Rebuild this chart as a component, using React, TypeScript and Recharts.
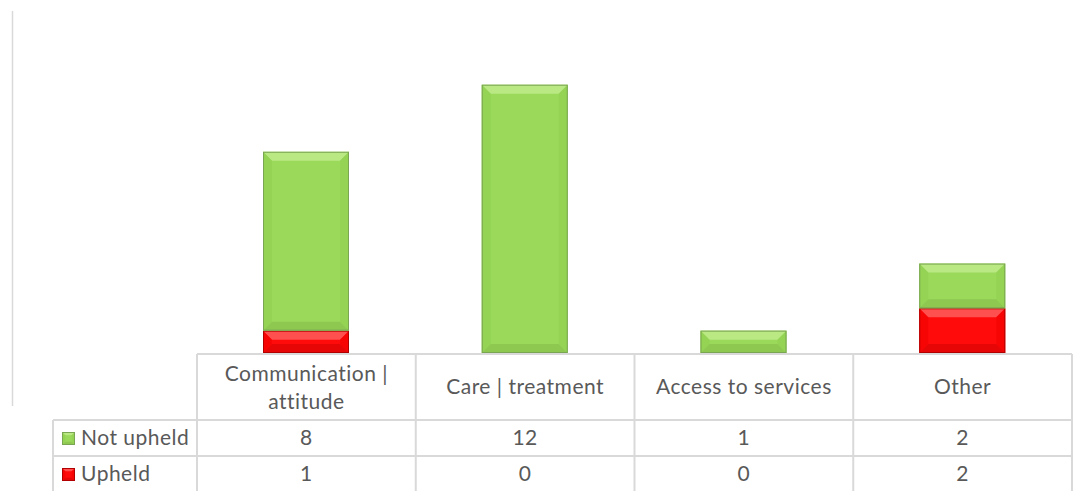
import { BarChart, Bar, XAxis, YAxis } from 'recharts';

const categories = ['Communication | attitude', 'Care | treatment', 'Access to services', 'Other'];
const headerLines = [['Communication |', 'attitude'], ['Care | treatment'], ['Access to services'], ['Other']];
const notUpheld = [8, 12, 1, 2];
const upheld = [1, 0, 0, 2];

const W = 1076;
const H = 491;
const PLOT_LEFT = 197;
const PLOT_RIGHT = 1072;
const PLOT_TOP = 40;
const PLOT_BOTTOM = 353;
const GRID = '#d9d9d9';
const TEXT = '#595959';
const FONT = 'Lato, "Open Sans", sans-serif';
const FONT_SIZE = 21;

const palette = {
  green: { base: '#9bd95b', light: '#c8f095', side: '#8fcf50', dark: '#7bb043', edge: '#7aa552' },
  red: { base: '#ff0b0b', light: '#ff6d6d', side: '#f20000', dark: '#c40000', edge: '#b00000' },
};

const data = categories.map((name, i) => ({ name, notUpheld: notUpheld[i], upheld: upheld[i] }));

// bevelled rectangle: flat face plus four sloped edges
function BevelBar(props: any) {
  const { x, y, width, height, tone } = props;
  if (!height || height <= 0) return null;
  const c = palette[tone as 'green' | 'red'];
  const b = Math.min(9, height / 2.4, width / 4);
  const x2 = x + width;
  const y2 = y + height;
  return (
    <g>
      <rect x={x} y={y} width={width} height={height} fill={c.base} />
      <polygon points={`${x},${y} ${x2},${y} ${x2 - b},${y + b} ${x + b},${y + b}`} fill={c.light} opacity={0.7} />
      <polygon points={`${x},${y2} ${x2},${y2} ${x2 - b},${y2 - b} ${x + b},${y2 - b}`} fill={c.dark} opacity={0.4} />
      <polygon points={`${x},${y} ${x + b},${y + b} ${x + b},${y2 - b} ${x},${y2}`} fill={c.side} opacity={0.6} />
      <polygon points={`${x2},${y} ${x2 - b},${y + b} ${x2 - b},${y2 - b} ${x2},${y2}`} fill={c.side} opacity={0.6} />
      <rect x={x + 0.5} y={y + 0.5} width={width - 1} height={height - 1} fill="none" stroke={c.edge} strokeWidth={1} />
    </g>
  );
}

function LegendKey({ x, y, tone }: { x: number; y: number; tone: 'green' | 'red' }) {
  return <BevelBar x={x} y={y} width={13} height={13} tone={tone} />;
}

function DataTable() {
  const colW = (PLOT_RIGHT - PLOT_LEFT) / categories.length;
  const rowTop = 420;
  const rowH = 36;
  const legendLeft = 53;
  const rows = [
    { label: 'Not upheld', values: notUpheld, tone: 'green' as const },
    { label: 'Upheld', values: upheld, tone: 'red' as const },
  ];
  const textProps = { fontFamily: FONT, fontSize: FONT_SIZE, fill: TEXT, letterSpacing: 0.5 };
  return (
    <svg width={W} height={H} style={{ position: 'absolute', left: 0, top: 0, pointerEvents: 'none' }}>
      <line x1={12.5} y1={11} x2={12.5} y2={406} stroke={GRID} strokeWidth={1.5} />
      <line x1={PLOT_LEFT} y1={354} x2={PLOT_RIGHT} y2={354} stroke={GRID} strokeWidth={2} />
      {[0, 1, 2].map((r) => (
        <line key={r} x1={legendLeft} y1={rowTop + r * rowH} x2={PLOT_RIGHT} y2={rowTop + r * rowH} stroke={GRID} strokeWidth={2} />
      ))}
      <line x1={legendLeft} y1={rowTop} x2={legendLeft} y2={H} stroke={GRID} strokeWidth={2} />
      {categories.map((_, i) => (
        <line key={i} x1={PLOT_LEFT + i * colW} y1={354} x2={PLOT_LEFT + i * colW} y2={H} stroke={GRID} strokeWidth={2} />
      ))}
      <line x1={PLOT_RIGHT} y1={354} x2={PLOT_RIGHT} y2={H} stroke={GRID} strokeWidth={2} />
      {headerLines.map((lines, i) => (
        <text key={i} x={PLOT_LEFT + (i + 0.5) * colW} textAnchor="middle" {...textProps}>
          {lines.map((t, j) => (
            <tspan key={j} x={PLOT_LEFT + (i + 0.5) * colW} y={(lines.length === 1 ? 394 : 381) + j * 28}>{t}</tspan>
          ))}
        </text>
      ))}
      {rows.map((row, r) => (
        <g key={row.label}>
          <LegendKey x={62} y={rowTop + r * rowH + 12} tone={row.tone} />
          <text x={81} y={rowTop + r * rowH + 25} {...textProps}>{row.label}</text>
          {row.values.map((v, i) => (
            <text key={i} x={PLOT_LEFT + (i + 0.5) * colW} y={rowTop + r * rowH + 25} textAnchor="middle" {...textProps}>
              {v}
            </text>
          ))}
        </g>
      ))}
    </svg>
  );
}

export default function App() {
  return (
    <div style={{ position: 'absolute', left: 0, top: 0, width: W, height: H, background: '#fff', overflow: 'hidden' }}>
      <BarChart
        width={W}
        height={H}
        data={data}
        margin={{ top: PLOT_TOP, right: W - PLOT_RIGHT, bottom: H - PLOT_BOTTOM, left: PLOT_LEFT }}
        barSize={86}
      >
        <XAxis dataKey="name" hide />
        <YAxis hide domain={[0, 14]} />
        <Bar dataKey="upheld" stackId="a" isAnimationActive={false} shape={(p: any) => <BevelBar {...p} tone="red" />} />
        <Bar dataKey="notUpheld" stackId="a" isAnimationActive={false} shape={(p: any) => <BevelBar {...p} tone="green" />} />
      </BarChart>
      <DataTable />
    </div>
  );
}
